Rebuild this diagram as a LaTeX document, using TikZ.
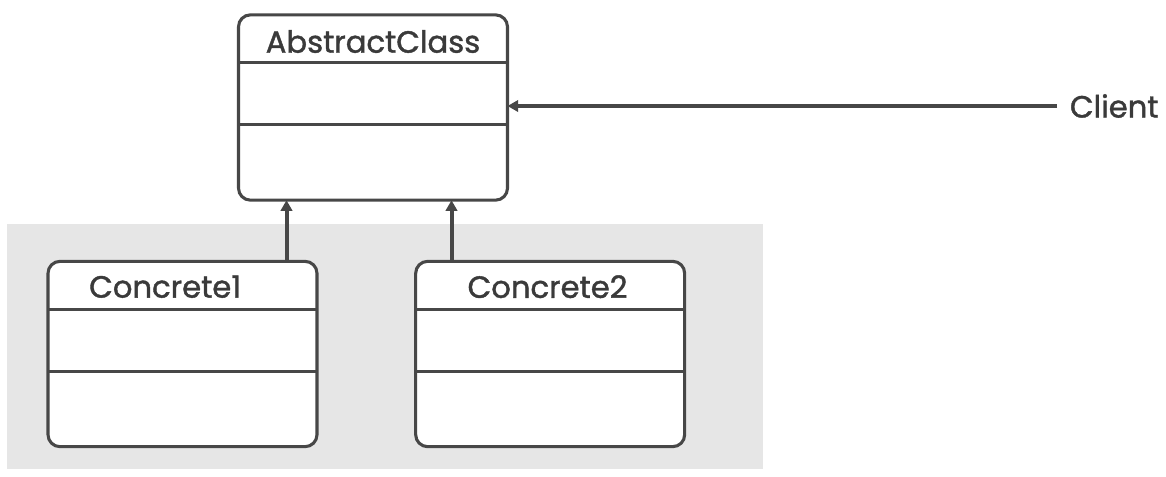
\documentclass[tikz,border=0pt]{standalone}
\usepackage{fontspec}
\setmainfont{Poppins}
\newfontfamily\namefont{Poppins}[FakeBold=1.3]
\usetikzlibrary{positioning, arrows.meta}

\definecolor{linegray}{HTML}{474747}
\definecolor{textgray}{HTML}{3A3A3A}
\definecolor{bggray}{HTML}{E6E6E6}

\tikzset{
    classbox/.style={draw=linegray, line width=2.3pt, fill=white, rounded corners=9pt,
        minimum width=201.75pt, minimum height=139pt, inner sep=0pt, outer sep=0pt},
    divider/.style={draw=linegray, line width=2.3pt},
    title/.style={text=textgray, font=\namefont\fontsize{23}{27}\selectfont},
    inherit/.style={draw=linegray, line width=3pt, -{Triangle[length=8pt, width=8.5pt]}},
}

\begin{document}
\begin{tikzpicture}[x=0.75pt, y=-0.75pt]
        \useasboundingbox (0,0) rectangle (1166,476);
        \fill[bggray] (7,224) rectangle (763,469);

        \node[classbox] (abstract) at (373,107.5) {};
        \node[classbox] (concrete1) at (182.5,354) {};
        \node[classbox, right=74pt of concrete1] (concrete2) {};

        \foreach \c in {abstract, concrete1, concrete2} {
            \draw[divider] ([yshift=-36pt]\c.north west) -- ([yshift=-36pt]\c.north east);
            \draw[divider] ([yshift=-82.5pt]\c.north west) -- ([yshift=-82.5pt]\c.north east);
        }

        \node[title] (abstract-name) at ([yshift=-20pt]abstract.north) {AbstractClass};
        \node[title] (concrete1-name) at ([xshift=-13pt, yshift=-19pt]concrete1.north) {Concrete1};
        \node[title] (concrete2-name) at ([xshift=-2pt, yshift=-19pt]concrete2.north) {Concrete2};
        \node[title, anchor=west, inner xsep=9.5pt] (client) at (1057,106) {Client};

        \draw[inherit] ([xshift=78pt]concrete1.north) -- ([xshift=78pt]concrete1.north |- abstract.south);
        \draw[inherit] ([xshift=-74pt]concrete2.north) -- ([xshift=-74pt]concrete2.north |- abstract.south);
        \draw[inherit, line width=2.3pt] (client.west) -- (client.west -| abstract.east);
\end{tikzpicture}
\end{document}
